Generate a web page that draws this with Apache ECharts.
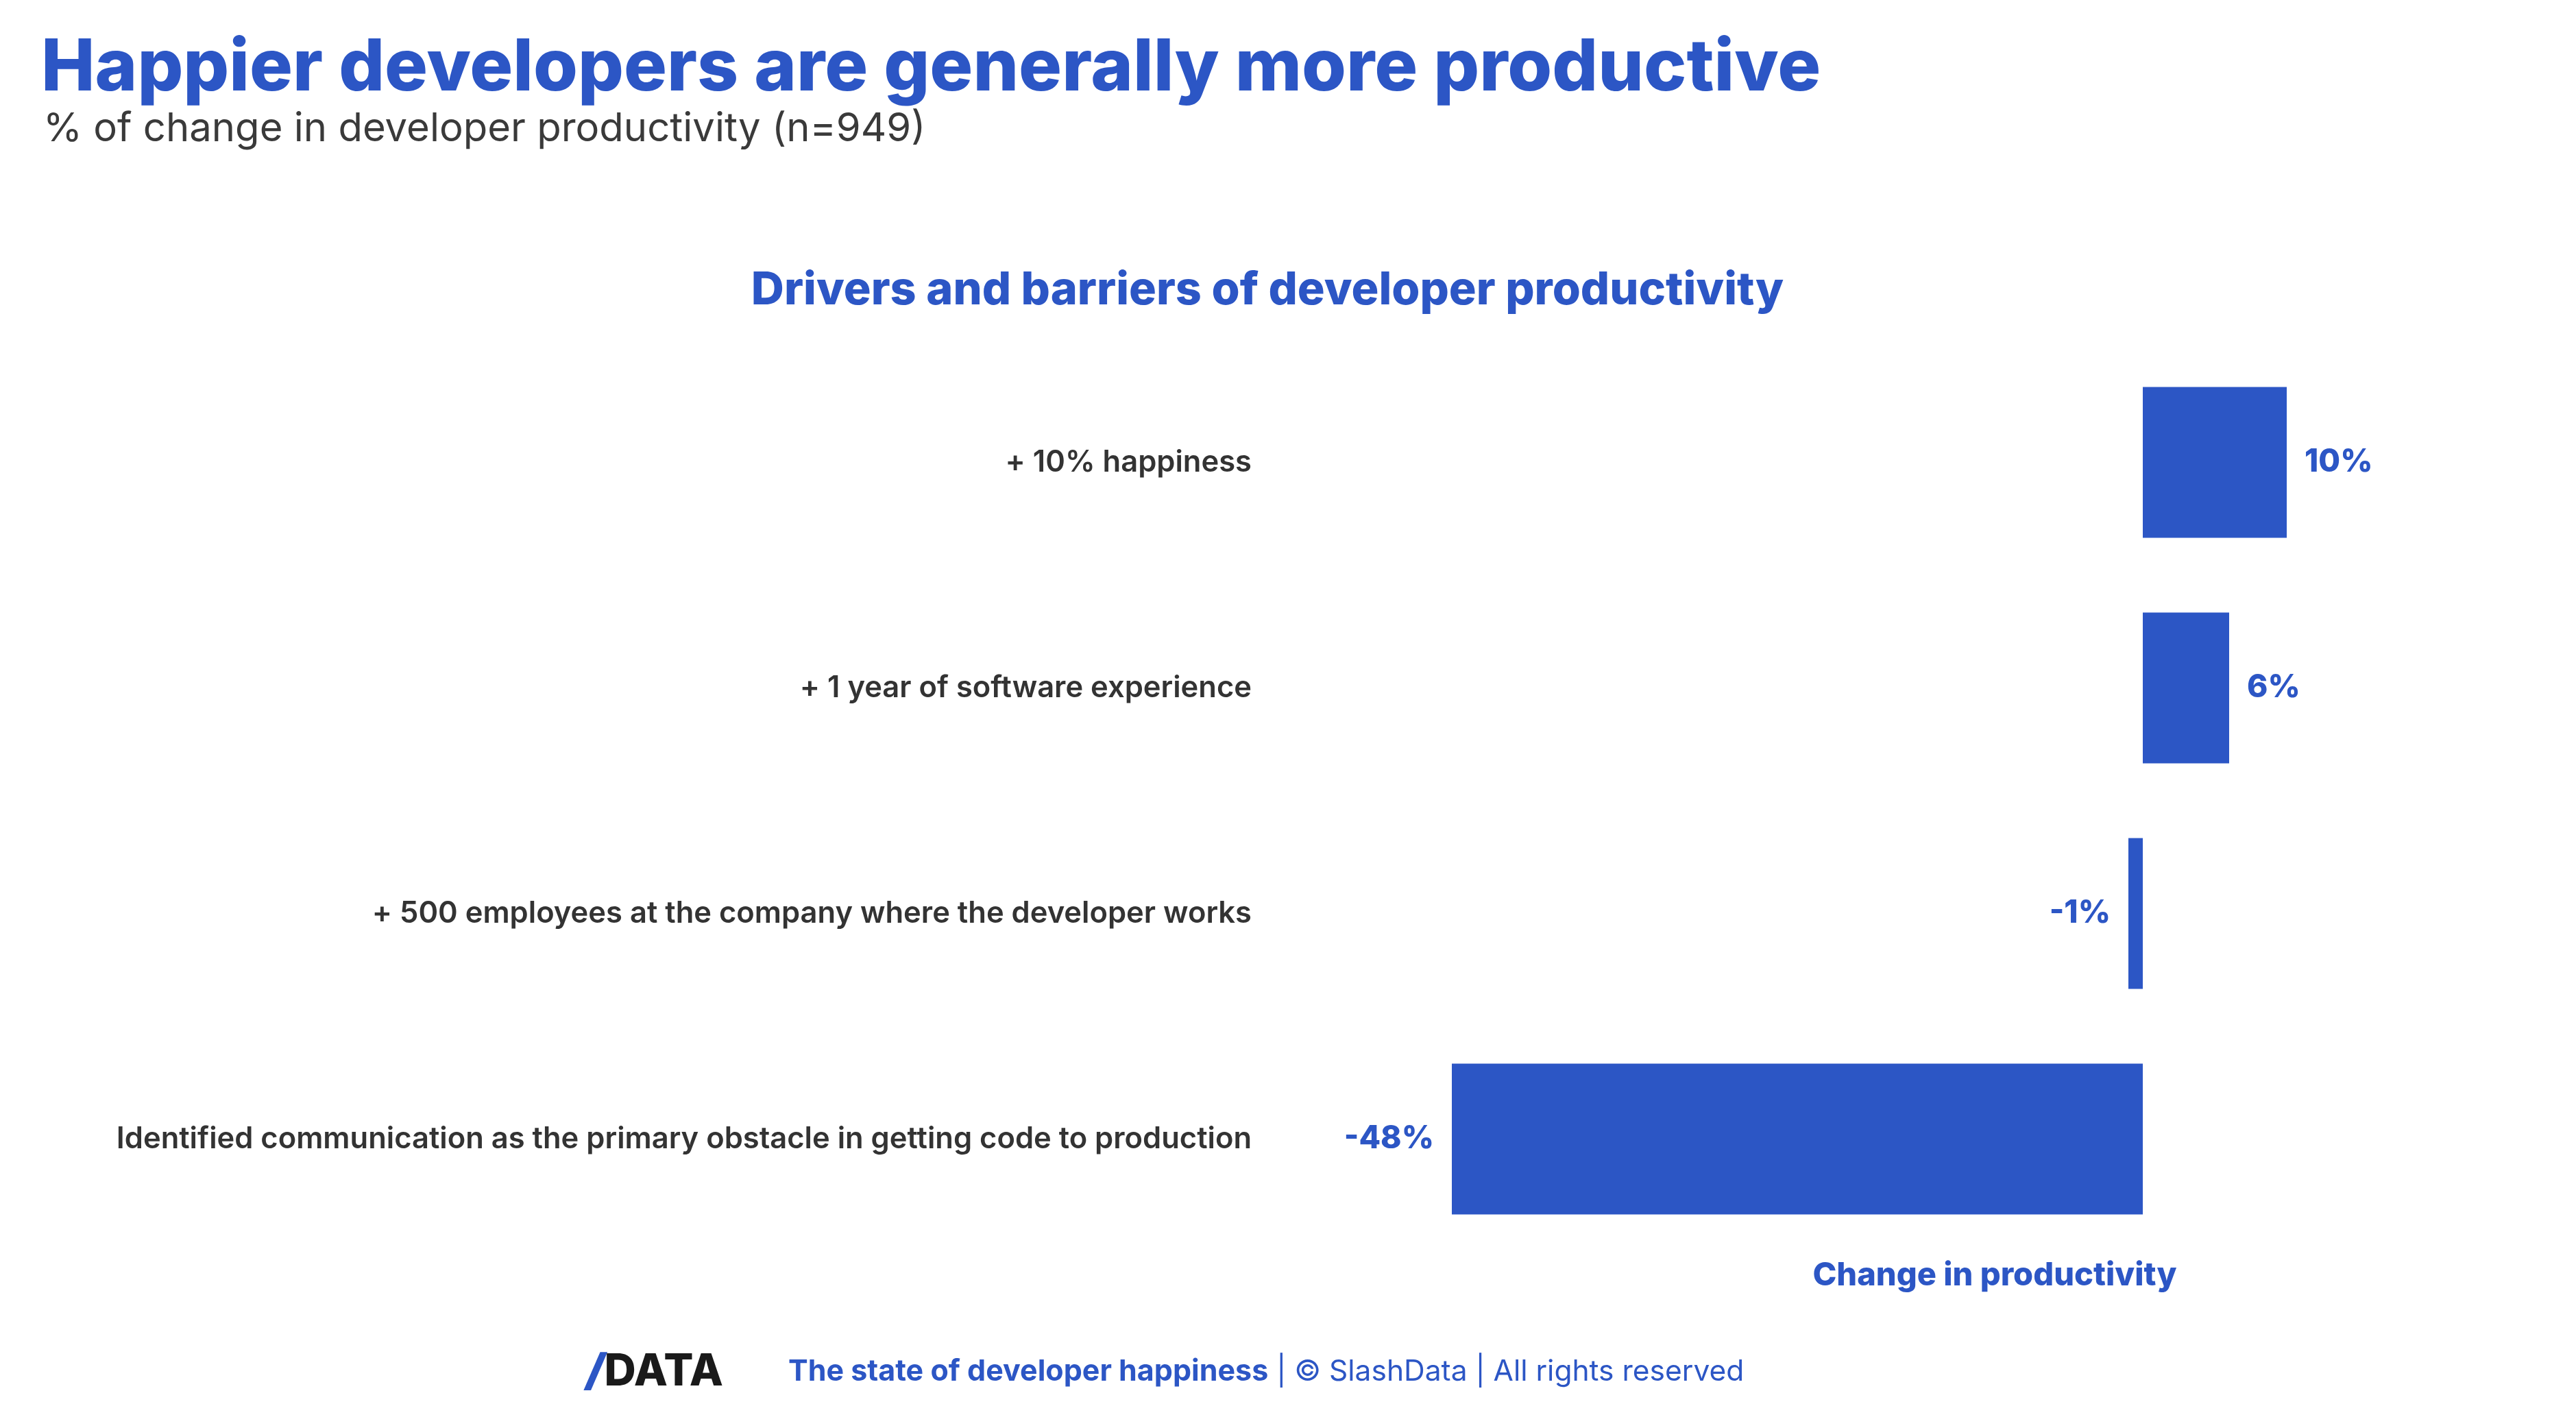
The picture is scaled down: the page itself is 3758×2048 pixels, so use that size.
<!DOCTYPE html>
<html>
<head>
<meta charset="utf-8">
<script src="https://cdn.jsdelivr.net/npm/echarts@6/dist/echarts.min.js"></script>
<style>
html,body{margin:0;padding:0;background:#fff;}
#chart{width:3758px;height:2048px;}
</style>
</head>
<body>
<div id="chart"></div>
<script>
const categories = [
  '+ 10% happiness',
  '+ 1 year of software experience',
  '+ 500 employees at the company where the developer works',
  'Identified communication as the primary obstacle in getting code to production'
];
const values = [10, 6, -1, -48];
const titleText = 'Happier developers are generally more productive';
const subtitleText = '% of change in developer productivity (n=949)';
const chartTitleText = 'Drivers and barriers of developer productivity';
const axisNameText = 'Change in productivity';
const footerBold = 'The state of developer happiness';
const footerRest = ' | © SlashData | All rights reserved';

const BLUE = '#2C56C5';
const FONT = 'Inter, Lato, "Noto Sans", sans-serif';

const chart = echarts.init(document.getElementById('chart'), null, {renderer: 'canvas'});

const barData = values.map(v => ({
  value: v,
  label: { position: v < 0 ? 'left' : 'right' }
}));

chart.setOption({
  backgroundColor: '#ffffff',
  animation: false,
  grid: { left: 1866, right: 212, top: 510, height: 1316, containLabel: false },
  xAxis: {
    type: 'value', min: -60, max: 20, interval: 10,
    axisLine: { show: false }, axisTick: { show: false },
    axisLabel: { show: false }, splitLine: { show: false }
  },
  yAxis: {
    type: 'category', data: categories, inverse: true,
    axisLine: { show: false, onZero: false }, axisTick: { show: false },
    splitLine: { show: false },
    axisLabel: {
      margin: 40, color: '#333333', fontSize: 43.5, fontWeight: 600,
      fontFamily: FONT
    }
  },
  series: [{
    type: 'bar',
    data: barData,
    barWidth: 220,
    itemStyle: { color: BLUE },
    label: {
      show: true, distance: 26, color: BLUE, fontSize: 46, fontWeight: 800,
      fontFamily: FONT, formatter: p => p.value + '%'
    }
  }],
  graphic: [
    { type: 'text', x: 60, y: 100, style: { text: titleText, fill: BLUE, font: '800 105px ' + FONT, textAlign: 'left', textVerticalAlign: 'middle' } },
    { type: 'text', x: 63, y: 189, style: { text: subtitleText, fill: '#3a3a3a', font: '400 58px ' + FONT, textAlign: 'left', textVerticalAlign: 'middle' } },
    { type: 'text', x: 1849, y: 424, style: { text: chartTitleText, fill: BLUE, font: '800 66.5px ' + FONT, textAlign: 'center', textVerticalAlign: 'middle' } },
    { type: 'text', x: 2910, y: 1861, style: { text: axisNameText, fill: BLUE, font: '800 47px ' + FONT, textAlign: 'center', textVerticalAlign: 'middle' } },
    { type: 'text', x: 855, y: 2002, style: {
        text: '{s|/}{d|DATA}', textAlign: 'left', textVerticalAlign: 'middle',
        rich: {
          s: { fill: BLUE, font: 'italic 900 64px ' + FONT },
          d: { fill: '#1a1a1a', font: '800 64px ' + FONT }
        }
      } },
    { type: 'text', x: 1150, y: 2001, style: {
        text: '{b|' + footerBold + '}{r|' + footerRest + '}', textAlign: 'left', textVerticalAlign: 'middle',
        rich: {
          b: { fill: BLUE, font: '700 43px ' + FONT },
          r: { fill: BLUE, font: '400 42.5px ' + FONT }
        }
      } }
  ]
});
</script>
</body>
</html>
